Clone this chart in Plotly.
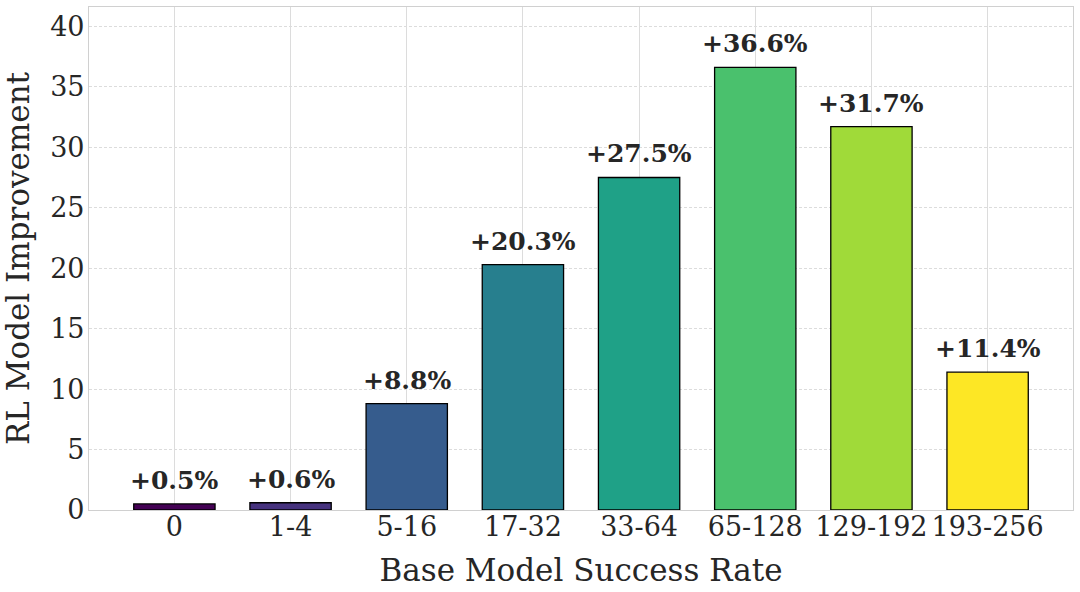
import plotly.graph_objects as go

categories = ["0", "1-4", "5-16", "17-32", "33-64", "65-128", "129-192", "193-256"]
improvement = [0.5, 0.6, 8.8, 20.3, 27.5, 36.6, 31.7, 11.4]
bar_colors = ["#440154", "#46327e", "#365c8d", "#277f8e", "#1fa187", "#4ac16d", "#a0da39", "#fde725"]
labels = [f"+{v:.1f}%" for v in improvement]

font_family = "DejaVu Serif"
text_color = "#262626"

fig = go.Figure()
fig.add_trace(go.Bar(
    x=list(range(len(categories))),
    y=improvement,
    width=0.7,
    marker=dict(color=bar_colors, line=dict(color="black", width=1.3)),
    cliponaxis=False,
    hoverinfo="skip",
))

for i, (v, t) in enumerate(zip(improvement, labels)):
    fig.add_annotation(
        x=i, y=v, text=f"<b>{t}</b>", showarrow=False,
        xanchor="center", yanchor="bottom", yshift=7,
        font=dict(family=font_family, size=25, color=text_color),
    )

fig.update_layout(
    width=1080, height=592,
    margin=dict(l=89, r=7, t=7, b=82),
    paper_bgcolor="white", plot_bgcolor="white",
    showlegend=False,
    font=dict(family=font_family, color=text_color),
)
fig.update_xaxes(
    range=[-0.735, 7.735], automargin=False,
    tickmode="array", tickvals=list(range(len(categories))), ticktext=categories,
    tickfont=dict(size=27, family=font_family, color=text_color),
    showgrid=True, gridcolor="#dcdcdc", gridwidth=1,
    showline=True, linecolor="#d0d0d0", linewidth=1.2, mirror=True,
    ticks="", ticklen=0, ticklabelstandoff=-8,
    title=dict(text="Base Model Success Rate", font=dict(size=31, family=font_family, color=text_color), standoff=18),
    zeroline=False,
)
fig.update_yaxes(
    range=[0, 41.6], automargin=False,
    tickmode="array", tickvals=[0, 5, 10, 15, 20, 25, 30, 35, 40],
    tickfont=dict(size=27, family=font_family, color=text_color),
    showgrid=True, gridcolor="#dcdcdc", gridwidth=0.8, griddash="3px,2px",
    showline=True, linecolor="#d0d0d0", linewidth=1.2, mirror=True,
    ticks="", ticklen=0, ticklabelstandoff=-2,
    title=dict(text="RL Model Improvement", font=dict(size=31, family=font_family, color=text_color), standoff=18),
    zeroline=False,
)

fig.write_html("out.html", config={"displayModeBar": False},
               post_script="document.body.style.margin='0';")
